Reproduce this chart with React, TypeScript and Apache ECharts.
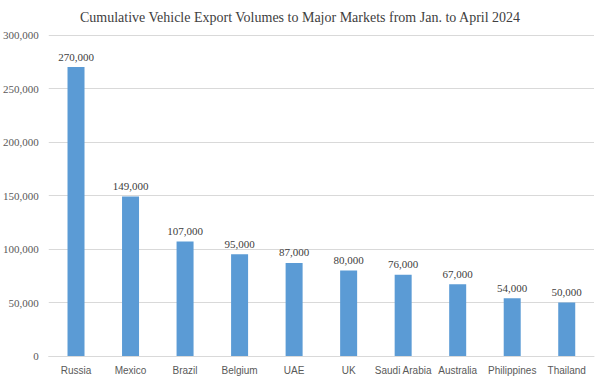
import React, { useEffect, useRef } from "react";
import * as echarts from "echarts";

const categories = ["Russia", "Mexico", "Brazil", "Belgium", "UAE", "UK", "Saudi Arabia", "Australia", "Philippines", "Thailand"];
const volumes = [270000, 149000, 107000, 95000, 87000, 80000, 76000, 67000, 54000, 50000];
const titleText = "Cumulative Vehicle Export Volumes to Major Markets from Jan. to April 2024";

const fmt = (v: number) => v.toLocaleString("en-US");

export default function App() {
  const ref = useRef<HTMLDivElement>(null);
  useEffect(() => {
    const chart = echarts.init(ref.current!, null, { renderer: "svg" });
    chart.setOption({
      animation: false,
      backgroundColor: "#ffffff",
      title: {
        text: titleText,
        left: "center",
        top: 5,
        textStyle: { fontFamily: "Liberation Serif", fontSize: 14, fontWeight: "normal", color: "#404040" },
      },
      grid: { left: 46, right: 6, top: 35, bottom: 24, containLabel: false },
      xAxis: {
        type: "category",
        data: categories,
        axisLine: { lineStyle: { color: "#d9d9d9" } },
        axisTick: { show: false },
        axisLabel: { fontFamily: "Liberation Sans", fontSize: 10, color: "#595959", margin: 9, interval: 0 },
      },
      yAxis: {
        type: "value",
        min: 0,
        max: 300000,
        interval: 50000,
        axisLine: { show: false },
        axisTick: { show: false },
        splitLine: { lineStyle: { color: "#d9d9d9" } },
        axisLabel: { fontFamily: "Liberation Serif", fontSize: 11, color: "#595959", margin: 10, formatter: (v: number) => fmt(v) },
      },
      series: [
        {
          type: "bar",
          data: volumes,
          barWidth: 17,
          itemStyle: { color: "#5b9bd5" },
          label: {
            show: true,
            position: "top",
            distance: 5,
            fontFamily: "Liberation Serif",
            fontSize: 11,
            color: "#404040",
            formatter: (p: any) => fmt(p.value),
          },
        },
      ],
    });
    return () => chart.dispose();
  }, []);
  return <div ref={ref} style={{ width: 600, height: 380, position: "absolute", left: 0, top: 0 }} />;
}
